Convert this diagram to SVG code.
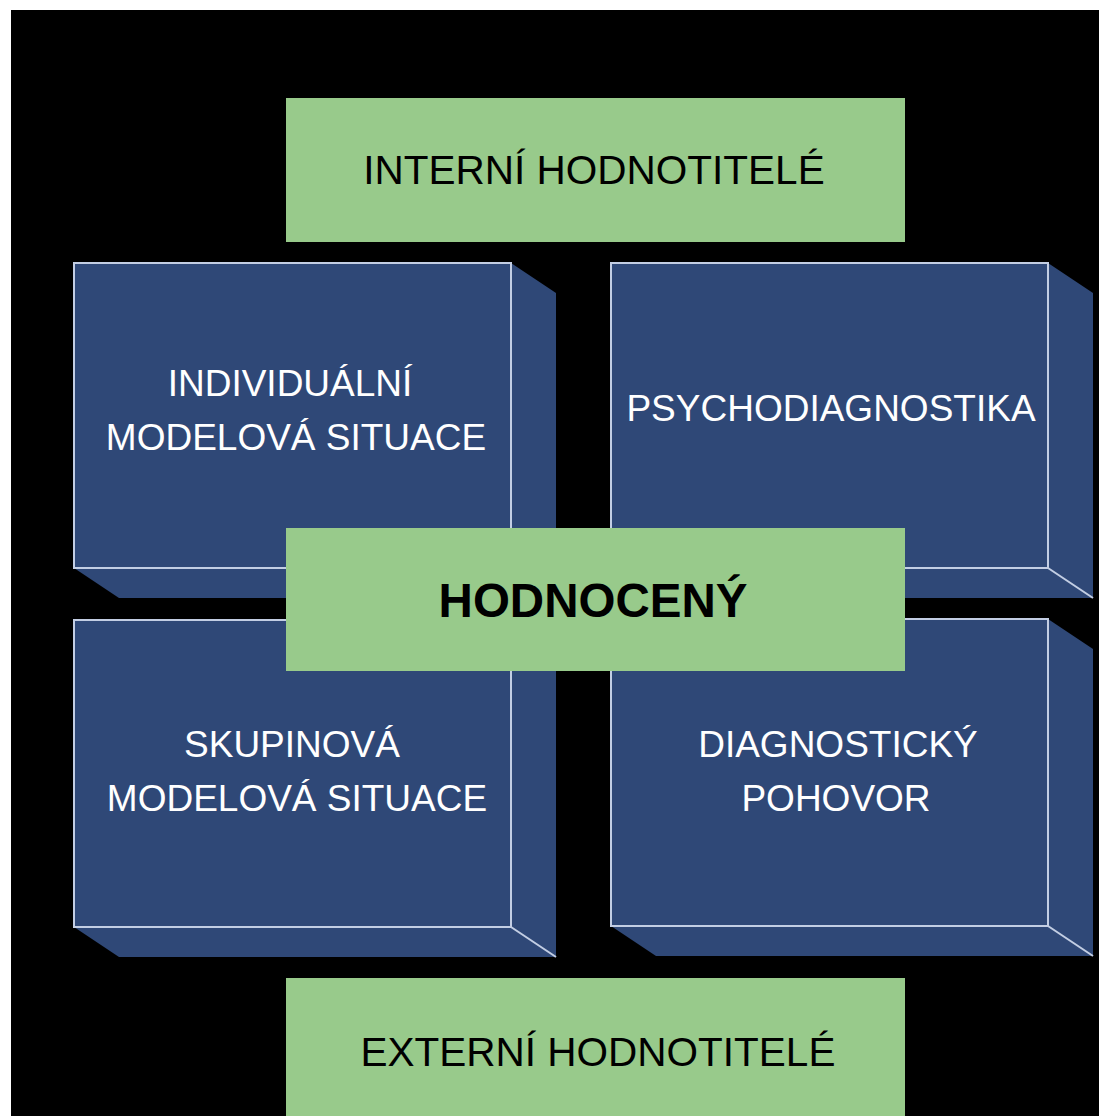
<svg xmlns="http://www.w3.org/2000/svg" width="1099" height="1116" viewBox="0 0 1099 1116">
<style>
.bg{fill:#000000}
.face{fill:#2F4877}
.side{fill:#2F4877}
.edge{fill:none;stroke:#C3CEE4;stroke-width:2}
.green{fill:#98CA8B}
.wt{font-family:"Liberation Sans",Arial,sans-serif;font-size:37px;fill:#FFFFFF;text-anchor:middle}
.gt{font-family:"Liberation Sans",Arial,sans-serif;font-size:40.5px;fill:#000000;text-anchor:middle}
.gb{font-family:"Liberation Sans",Arial,sans-serif;font-size:47.5px;font-weight:bold;fill:#000000;text-anchor:middle}
</style>
<rect x="0" y="0" width="1099" height="1116" fill="#FFFFFF"/>
<rect class="bg" x="11" y="10" width="1088" height="1106"/>

<g id="box-individualni">
<polygon class="side" points="511,263 556,293 556,598 511,568"/>
<polygon class="side" points="74,568 511,568 556,598 119,598"/>
<rect class="face" x="74" y="263" width="437" height="305"/>
<rect class="edge" x="74" y="263" width="437" height="305"/>
<line class="edge" x1="511" y1="568" x2="556" y2="598"/>
<text class="wt" x="290" y="396">INDIVIDUÁLNÍ</text>
<text class="wt" x="296" y="450">MODELOVÁ SITUACE</text>
</g>

<g id="box-psycho">
<polygon class="side" points="1048,263 1093,293 1093,598 1048,568"/>
<polygon class="side" points="611,568 1048,568 1093,598 656,598"/>
<rect class="face" x="611" y="263" width="437" height="305"/>
<rect class="edge" x="611" y="263" width="437" height="305"/>
<line class="edge" x1="1048" y1="568" x2="1093" y2="598"/>
<text class="wt" x="831" y="421">PSYCHODIAGNOSTIKA</text>
</g>

<g id="box-skupinova">
<polygon class="side" points="511,620 556,650 556,957 511,927"/>
<polygon class="side" points="74,927 511,927 556,957 119,957"/>
<rect class="face" x="74" y="620" width="437" height="307"/>
<rect class="edge" x="74" y="620" width="437" height="307"/>
<line class="edge" x1="511" y1="927" x2="556" y2="957"/>
<text class="wt" x="292" y="757">SKUPINOVÁ</text>
<text class="wt" x="297" y="811">MODELOVÁ SITUACE</text>
</g>

<g id="box-pohovor">
<polygon class="side" points="1048,619 1093,649 1093,956 1048,926"/>
<polygon class="side" points="611,926 1048,926 1093,956 656,956"/>
<rect class="face" x="611" y="619" width="437" height="307"/>
<rect class="edge" x="611" y="619" width="437" height="307"/>
<line class="edge" x1="1048" y1="926" x2="1093" y2="956"/>
<text class="wt" x="838" y="757">DIAGNOSTICKÝ</text>
<text class="wt" x="836" y="811">POHOVOR</text>
</g>

<g id="interni">
<rect class="green" x="286" y="98" width="619" height="144"/>
<text class="gt" x="594" y="184">INTERNÍ HODNOTITELÉ</text>
</g>

<g id="hodnoceny">
<rect class="green" x="286" y="528" width="619" height="143"/>
<text class="gb" x="593" y="617">HODNOCENÝ</text>
</g>

<g id="externi">
<rect class="green" x="286" y="978" width="619" height="138"/>
<text class="gt" x="598" y="1066">EXTERNÍ HODNOTITELÉ</text>
</g>

<g id="connectors"></g>
</svg>
